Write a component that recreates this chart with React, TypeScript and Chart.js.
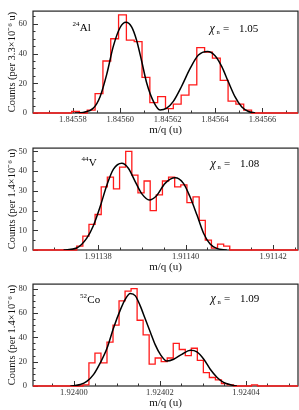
import React, { useEffect, useRef } from 'react';
import { Chart, registerables } from 'chart.js';

Chart.register(...registerables);

// ---------- Panel 1: 24Al ----------
const al24Counts = [1, 0, 2, 13, 35, 50, 66, 49, 48, 24, 7, 11, 3, 6, 12, 19, 44, 41, 37, 22, 8, 6, 2];
const al24BinStart = 1.8455795;
const al24BinWidth = 3.3e-6;
const al24FitX = [1.8455809, 1.8455844, 1.8455887, 1.8455915, 1.8455943, 1.8455971, 1.8455999, 1.8456024, 1.8456048, 1.8456069, 1.8456091, 1.8456112, 1.845614, 1.8456168, 1.8456196, 1.8456224, 1.8456259, 1.8456295, 1.845633, 1.8456368, 1.84564, 1.8456428, 1.8456456, 1.8456484, 1.8456513, 1.8456541, 1.8456569];
const al24FitY = [0, 0.4, 3.3, 11, 26, 45, 57.4, 61.1, 58, 49, 34.5, 20, 7.8, 2, 3.3, 7.8, 18, 30, 39, 41.4, 38.6, 31.4, 21, 11, 4, 1, 0];
const al24XTicks = [1.84558, 1.8456, 1.84562, 1.84564, 1.84566];
const al24YTicks = [0, 20, 40, 60];

// ---------- Panel 2: 44V ----------
const v44Counts = [2, 7, 13, 18, 32, 37, 31, 42, 50, 38, 29, 35, 20, 28, 35, 37, 32, 33, 24, 27, 15, 5, 1, 3, 2];
const v44BinStart = 1.9113751;
const v44BinWidth = 1.4e-6;
const v44FitX = [1.9113721, 1.9113751, 1.9113774, 1.9113789, 1.9113805, 1.911382, 1.9113835, 1.9113854, 1.9113869, 1.9113885, 1.91139, 1.9113917, 1.9113934, 1.9113953, 1.9113976, 1.9113995, 1.911401, 1.9114026, 1.9114041, 1.9114056, 1.9114071, 1.9114094];
const v44FitY = [0, 1, 6, 12.3, 22.3, 33, 41, 44, 41.5, 34.6, 28.5, 25.4, 27.7, 33.8, 36.6, 33.8, 27, 17.7, 8.5, 3, 0.8, 0];
const v44XTicks = [1.91138, 1.9114, 1.91142];
const v44YTicks = [0, 10, 20, 30, 40, 50];

// ---------- Panel 3: 52Co ----------
const co52Counts = [1, 19, 27, 19, 36, 50, 70, 78, 80, 54, 42, 18, 23, 20, 23, 35, 30, 25, 31, 21, 11, 7, 5, 2, 1, 0, 0, 0, 1];
const co52BinStart = 1.9240021;
const co52BinWidth = 1.4e-6;
const co52FitX = [1.9239992, 1.9240015, 1.924003, 1.9240046, 1.9240061, 1.9240077, 1.9240092, 1.9240108, 1.9240119, 1.9240131, 1.9240143, 1.9240154, 1.9240166, 1.9240178, 1.9240189, 1.9240201, 1.9240216, 1.9240232, 1.9240251, 1.9240271, 1.9240286, 1.9240302, 1.9240317, 1.9240333, 1.9240348, 1.9240364, 1.9240379];
const co52FitY = [0, 1.2, 3.75, 9.5, 18.75, 31, 47.5, 62.5, 71, 76, 74, 66, 55, 44, 34, 26, 20.5, 22, 26, 29.3, 28, 22, 13.75, 7, 3, 1, 0];
const co52XTicks = [1.924, 1.92402, 1.92404];
const co52YTicks = [0, 20, 40, 60, 80];

const FONT = '"Liberation Serif", "Times New Roman", serif';

type PanelCfg = {
  counts: number[];
  binStart: number;
  binWidth: number;
  fitX: number[];
  fitY: number[];
  xTicks: number[];
  yTicks: number[];
  xMin: number;
  xMax: number;
  yMax: number;
  xMinor: number;
  yMinor: number;
  yTitle: string;
  mass: string;
  element: string;
  chi: string;
  isoX: number;
  isoY: number;
  chiX: number;
  chiY: number;
};

const panels: PanelCfg[] = [
  {
    counts: al24Counts, binStart: al24BinStart, binWidth: al24BinWidth,
    fitX: al24FitX, fitY: al24FitY, xTicks: al24XTicks, yTicks: al24YTicks,
    xMin: 1.8455632, xMax: 1.845675, yMax: 68.6, xMinor: 1e-5, yMinor: 5,
    yTitle: 'Counts (per 3.3×10⁻⁶ u)', mass: '24', element: 'Al', chi: '1.05',
    isoX: 72.5, isoY: 19.5, chiX: 209.5, chiY: 20.5,
  },
  {
    counts: v44Counts, binStart: v44BinStart, binWidth: v44BinWidth,
    fitX: v44FitX, fitY: v44FitY, xTicks: v44XTicks, yTicks: v44YTicks,
    xMin: 1.9113651, xMax: 1.9114257, yMax: 51.7, xMinor: 5e-6, yMinor: 5,
    yTitle: 'Counts (per 1.4×10⁻⁶ u)', mass: '44', element: 'V', chi: '1.08',
    isoX: 81.5, isoY: 17.5, chiX: 210.5, chiY: 18.5,
  },
  {
    counts: co52Counts, binStart: co52BinStart, binWidth: co52BinWidth,
    fitX: co52FitX, fitY: co52FitY, xTicks: co52XTicks, yTicks: co52YTicks,
    xMin: 1.9239905, xMax: 1.9240521, yMax: 83.7, xMinor: 5e-6, yMinor: 5,
    yTitle: 'Counts (per 1.4×10⁻⁶ u)', mass: '52', element: 'Co', chi: '1.09',
    isoX: 80, isoY: 18.5, chiX: 210.5, chiY: 17.7,
  },
];

function makePlugins(p: PanelCfg) {
  const frame = {
    id: 'frame' + p.mass,
    beforeDatasetsDraw(chart: any) {
      const { ctx, chartArea } = chart;
      const { left, right, top, bottom } = chartArea;
      const xs = chart.scales.x;
      const ys = chart.scales.y;
      ctx.save();
      ctx.strokeStyle = '#222';
      ctx.lineWidth = 1.2;
      ctx.strokeRect(left, top, right - left, bottom - top);
      ctx.lineWidth = 1;
      ctx.strokeStyle = '#333';
      ctx.beginPath();
      const x0 = p.xTicks[0];
      const kStart = Math.ceil((p.xMin - x0) / p.xMinor - 1e-6);
      const kEnd = Math.floor((p.xMax - x0) / p.xMinor + 1e-6);
      const majorStepX = p.xTicks.length > 1 ? p.xTicks[1] - p.xTicks[0] : p.xMinor;
      const ratioX = Math.round(majorStepX / p.xMinor);
      for (let k = kStart; k <= kEnd; k++) {
        const v = x0 + k * p.xMinor;
        const px = Math.round(xs.getPixelForValue(v)) + 0.5;
        const isMajor = ((k % ratioX) + ratioX) % ratioX === 0;
        const len = isMajor ? 5 : 2.5;
        ctx.moveTo(px, bottom);
        ctx.lineTo(px, bottom - len);
      }
      const majorStepY = p.yTicks[1] - p.yTicks[0];
      const ratioY = Math.round(majorStepY / p.yMinor);
      for (let k = 0; k * p.yMinor <= p.yMax; k++) {
        const v = k * p.yMinor;
        const py = Math.round(ys.getPixelForValue(v)) + 0.5;
        const len = k % ratioY === 0 ? 5 : 2.5;
        ctx.moveTo(left, py);
        ctx.lineTo(left + len, py);
      }
      ctx.stroke();
      ctx.restore();
    },
  };
  const annot = {
    id: 'annot' + p.mass,
    afterDraw(chart: any) {
      const { ctx, chartArea } = chart;
      const top = chartArea.top;
      ctx.save();
      ctx.fillStyle = '#000';
      ctx.textBaseline = 'alphabetic';
      ctx.textAlign = 'left';
      ctx.font = `7px ${FONT}`;
      ctx.fillText(p.mass, p.isoX, top + p.isoY - 4.5);
      const w = ctx.measureText(p.mass).width;
      ctx.font = `11px ${FONT}`;
      ctx.fillText(p.element, p.isoX + w + 0.3, top + p.isoY);

      ctx.font = `italic 12px ${FONT}`;
      ctx.fillText('χ', p.chiX, top + p.chiY);
      ctx.font = `6.5px ${FONT}`;
      ctx.fillText('n', p.chiX + 7, top + p.chiY + 2.5);
      ctx.font = `11px ${FONT}`;
      ctx.fillText('=', p.chiX + 13.5, top + p.chiY);
      ctx.fillText(p.chi, p.chiX + 29.5, top + p.chiY);
      ctx.restore();
    },
  };
  return [frame, annot];
}

function Panel({ p, top }: { p: PanelCfg; top: number }) {
  const ref = useRef<HTMLCanvasElement>(null);
  useEffect(() => {
    const canvas = ref.current;
    if (!canvas) return;
    const hist: { x: number; y: number }[] = [{ x: p.xMin, y: 0 }];
    p.counts.forEach((c, i) => hist.push({ x: p.binStart + i * p.binWidth, y: c }));
    hist.push({ x: p.binStart + p.counts.length * p.binWidth, y: 0 });
    hist.push({ x: p.xMax, y: 0 });
    const fit = p.fitX.map((x, i) => ({ x, y: p.fitY[i] }));

    const chart = new Chart(canvas, {
      type: 'line',
      data: {
        datasets: [
          {
            data: fit,
            borderColor: '#000',
            borderWidth: 1.5,
            pointRadius: 0,
            tension: 0.4,
            cubicInterpolationMode: 'monotone',
            fill: false,
          } as any,
          {
            data: hist,
            borderColor: '#ff1a1a',
            borderWidth: 1.3,
            pointRadius: 0,
            stepped: 'before',
            fill: false,
            clip: 3,
          } as any,
        ],
      },
      options: {
        animation: false,
        responsive: false,
        devicePixelRatio: 1,
        layout: { padding: { top: 1, right: 1, left: 0, bottom: 0 } },
        plugins: { legend: { display: false }, tooltip: { enabled: false } },
        events: [],
        scales: {
          x: {
            type: 'linear',
            min: p.xMin,
            max: p.xMax,
            grid: { display: false, drawTicks: false },
            border: { display: false },
            afterBuildTicks: (scale: any) => {
              scale.ticks = p.xTicks.map((v) => ({ value: v }));
            },
            afterFit: (scale: any) => {
              scale.height = 24;
            },
            ticks: {
              autoSkip: false,
              maxRotation: 0,
              padding: 2,
              color: '#333',
              font: { family: FONT, size: 8.5 },
              callback: (v: any) => Number(v).toFixed(5),
            },
            title: {
              display: true,
              text: 'm/q (u)',
              color: '#111',
              font: { family: FONT, size: 11 },
              padding: { top: 0, bottom: 0 },
            },
          },
          y: {
            type: 'linear',
            min: 0,
            max: p.yMax,
            grid: { display: false, drawTicks: false },
            border: { display: false },
            afterBuildTicks: (scale: any) => {
              scale.ticks = p.yTicks.map((v) => ({ value: v }));
            },
            afterFit: (scale: any) => {
              scale.width = 33;
            },
            ticks: {
              padding: 6,
              color: '#333',
              font: { family: FONT, size: 8.5 },
              callback: (v: any) => String(v),
            },
            title: {
              display: true,
              text: p.yTitle,
              color: '#111',
              font: { family: FONT, size: 10.5 },
              padding: { top: 6, bottom: 0 },
            },
          },
        },
      } as any,
      plugins: makePlugins(p) as any,
    });
    return () => chart.destroy();
  }, [p]);
  return (
    <canvas
      ref={ref}
      width={299}
      height={137}
      style={{ position: 'absolute', left: 0, top, width: 299, height: 137 }}
    />
  );
}

export default function App() {
  const tops = [0, 137, 273];
  return (
    <div style={{ position: 'absolute', left: 0, top: 0, width: 299, height: 410, background: '#fff', overflow: 'hidden' }}>
      {panels.map((p, i) => (
        <Panel key={p.mass} p={p} top={tops[i]} />
      ))}
    </div>
  );
}
